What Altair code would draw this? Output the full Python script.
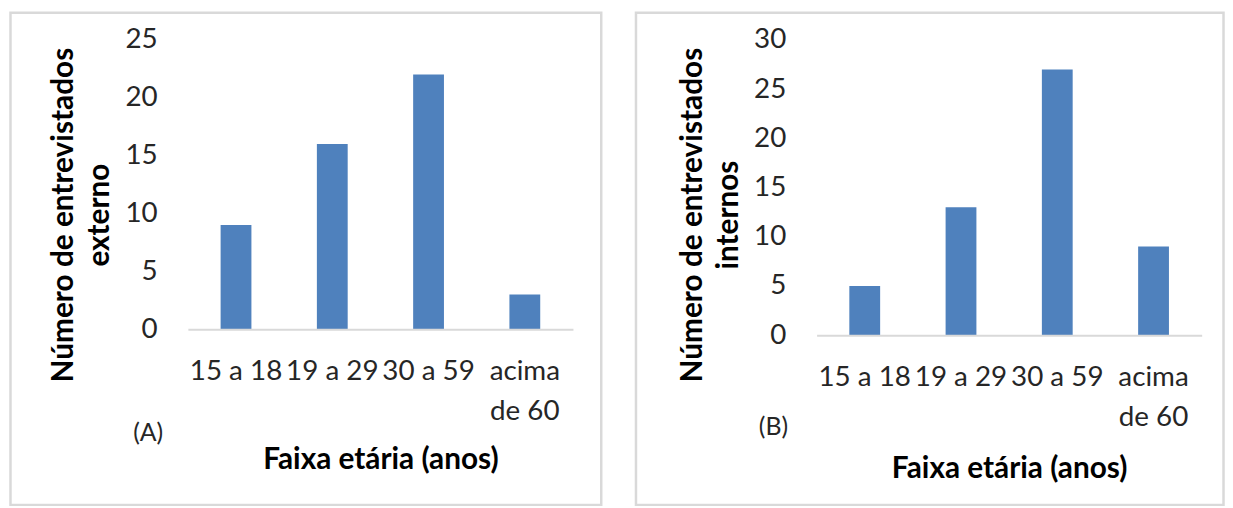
import altair as alt
import pandas as pd

# ---- data ----
categories = ["15 a 18", "19 a 29", "30 a 59", "acima de 60"]
externos = [9, 16, 22, 3]
internos = [5, 13, 27, 9]
y_max_a = 25
y_max_b = 30
y_title_a = ["Número de entrevistados", "externo"]
y_title_b = ["Número de entrevistados", "internos"]
x_title = "Faixa etária (anos)"
tags = ["(A)", "(B)"]

FONT = "Lato"
BAR = "#4f81bd"
TXT = "#262626"


def panel(values, ymax, plot_h, ytitle, tag, frame, tag_pos, xtitle_y):
    df = pd.DataFrame({"faixa": categories, "n": values})
    x = alt.X(
        "faixa:N",
        sort=categories,
        scale=alt.Scale(paddingInner=0.68, paddingOuter=0.34),
        axis=alt.Axis(
            title=x_title,
            labelAngle=0,
            labelFont=FONT,
            labelFontSize=28,
            labelColor=TXT,
            labelPadding=29,
            labelLineHeight=40,
            labelOverlap=False,
            labelExpr="datum.label == 'acima de 60' ? ['acima', 'de 60'] : datum.label",
            ticks=False,
            tickSize=0,
            domainColor="#d9d9d9",
            domainWidth=2,
            titleFont=FONT,
            titleFontSize=30,
            titleFontWeight="bold",
            titleColor="#000000",
            titleBaseline="alphabetic",
            titleY=xtitle_y,
            zindex=1,
        ),
    )
    y = alt.Y(
        "n:Q",
        scale=alt.Scale(domain=[0, ymax], nice=False),
        axis=alt.Axis(
            title=ytitle,
            values=list(range(0, ymax + 1, 5)),
            grid=False,
            domain=False,
            ticks=False,
            tickSize=0,
            labelFont=FONT,
            labelFontSize=28,
            labelColor=TXT,
            labelPadding=31,
            titleFont=FONT,
            titleFontSize=30,
            titleFontWeight="bold",
            titleColor="#000000",
            titleAngle=270,
            titleAlign="center",
            titleBaseline="alphabetic",
            titleLineHeight=36,
            titleX=-116,
            titleY=176,
            zindex=1,
        ),
    )
    bars = alt.Chart(df).mark_bar(color=BAR).encode(x=x, y=y)

    one = pd.DataFrame({"t": [tag]})
    border = alt.Chart(one).mark_rect(
        fillOpacity=0, stroke="#d9d9d9", strokeWidth=2.5
    ).encode(
        x=alt.value(frame[0]), x2=alt.value(frame[1]),
        y=alt.value(frame[2]), y2=alt.value(frame[3]),
    )
    label = alt.Chart(one).mark_text(
        font=FONT, fontSize=25, color=TXT, align="center", baseline="middle"
    ).encode(
        text="t:N", x=alt.value(tag_pos[0]), y=alt.value(tag_pos[1])
    )
    return alt.layer(border, bars, label).properties(width=388, height=plot_h)


panel_a = panel(externos, y_max_a, 291.5, y_title_a, tags[0],
                (-178.75, 416.5, -27.25, 468.5), (-40, 396.5), 140.6)
panel_b = panel(internos, y_max_b, 297.5, y_title_b, tags[1],
                (-182, 410, -27.25, 468.5), (-43.5, 390.5), 143)

chart = alt.hconcat(panel_a, panel_b, spacing=31.5).properties(
    padding={"left": 1.25, "top": 1.25, "right": 0, "bottom": 0}
).configure_view(strokeWidth=0)

chart.save("out.html", embed_options={"renderer": "svg", "actions": False})
